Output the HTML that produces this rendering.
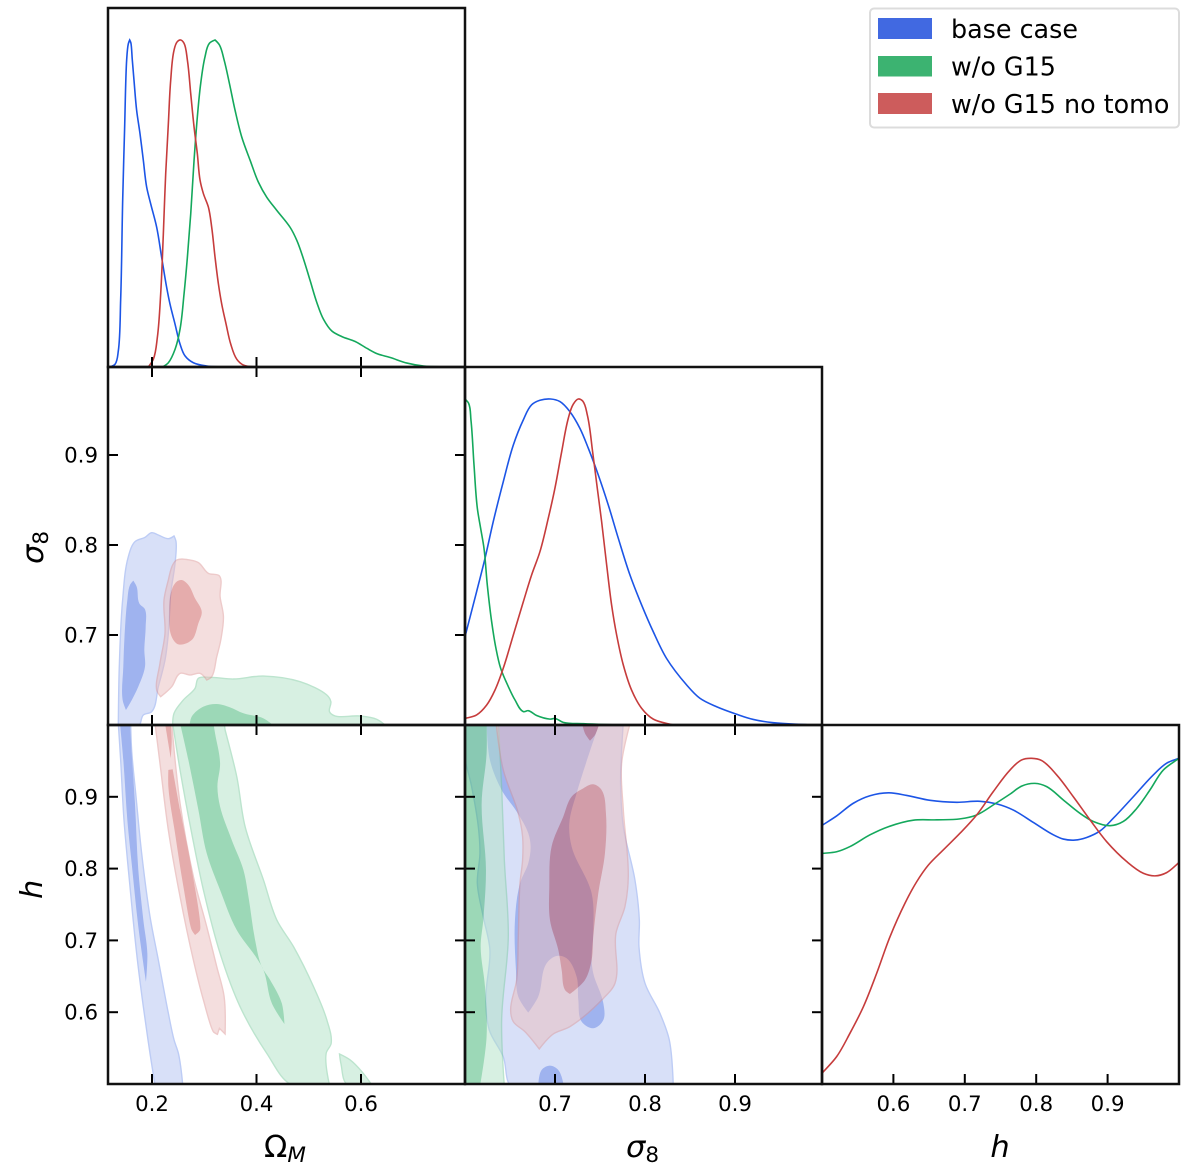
<!DOCTYPE html>
<html lang="en">
<head>
<meta charset="utf-8">
<title>Triangle plot</title>
<style>
html,body{margin:0;padding:0;background:#fff;width:1200px;height:1164px;overflow:hidden}
svg{display:block}
text{font-family:"DejaVu Sans","Liberation Sans",sans-serif;fill:#000}
</style>
</head>
<body>
<svg id="chart" xmlns="http://www.w3.org/2000/svg" width="1200" height="1164" viewBox="0 0 1200 1164">
  <defs>
    <clipPath id="clip-om-om"><rect x="108" y="8" width="357" height="359"/></clipPath>
    <clipPath id="clip-om-s8"><rect x="108" y="367" width="357" height="358"/></clipPath>
    <clipPath id="clip-s8-s8"><rect x="465" y="367" width="357" height="358"/></clipPath>
    <clipPath id="clip-om-h"><rect x="108" y="725" width="357" height="359"/></clipPath>
    <clipPath id="clip-s8-h"><rect x="465" y="725" width="357" height="359"/></clipPath>
    <clipPath id="clip-h-h"><rect x="822" y="725" width="357" height="359"/></clipPath>
  </defs>
  <g id="marks"></g>
  <g id="axes"></g>

  <text x="264" y="1157" font-size="30.5">Ω<tspan font-size="21.5" font-style="italic" dy="5">M</tspan></text>
  <text x="626" y="1157" font-size="30.5"><tspan font-style="italic">σ</tspan><tspan font-size="21.5" dy="5">8</tspan></text>
  <text x="1000" y="1157" font-size="30.5" font-style="italic" text-anchor="middle">h</text>
  <text transform="translate(43,564) rotate(-90)" font-size="30.5"><tspan font-style="italic">σ</tspan><tspan font-size="21.5" dy="5">8</tspan></text>
  <text transform="translate(42,899) rotate(-90)" font-size="30.5" font-style="italic">h</text>

  <g>
    <rect x="870" y="8.5" width="309" height="119" rx="4" ry="4" fill="#fff" stroke="#dcdcdc" stroke-width="2"/>
    <rect x="878" y="18" width="54" height="21" fill="#4169E1"/>
    <text x="951" y="38" font-size="25.4">base case</text>
    <rect x="878" y="56" width="54" height="20.5" fill="#3CB371"/>
    <text x="951" y="75.5" font-size="25.4">w/o G15</text>
    <rect x="878" y="93" width="54" height="21" fill="#CD5C5C"/>
    <text x="951" y="113" font-size="25.4">w/o G15 no tomo</text>
  </g>
</svg>

<script>
// ---------- tick labels ----------
const omegaTicks = [0.2, 0.4, 0.6];
const sigmaTicks = [0.7, 0.8, 0.9];
const hTicks = [0.6, 0.7, 0.8, 0.9];

// ---------- 1D posterior: Omega_M ----------
const omBlueX = [.1196,.1291,.1355,.140,.1439,.1475,.1515,.1546,.1573,.1596,.1623,.1655,.1706,.177,.1834,.1898,.1975,.209,.2185,.2281,.2345,.2441,.2537,.2632,.2792,.3047,.3367];
const omBlueP = [0,.008,.049,.205,.511,.725,.939,.988,1,.991,.939,.878,.785,.714,.632,.55,.499,.427,.335,.243,.192,.131,.07,.034,.013,.003,0];
const omRedX = [.193,.2026,.2102,.2166,.2217,.2262,.2313,.2358,.2422,.2485,.2549,.2613,.2677,.2741,.2805,.2868,.292,.2984,.3079,.3143,.3207,.3271,.3335,.3418,.3507,.3622,.375,.4005];
const omRedP = [0,.024,.09,.223,.407,.591,.744,.877,.969,.995,1,.99,.939,.836,.734,.652,.571,.53,.489,.427,.335,.254,.192,.131,.07,.024,.006,0];
const omGreenX = [.2205,.2313,.2441,.2537,.2613,.2677,.2741,.2805,.2868,.2932,.3015,.3099,.3207,.329,.338,.3482,.359,.3718,.3878,.4037,.4197,.4388,.4644,.4772,.49,.5027,.5155,.5282,.5442,.5634,.5889,.6113,.6304,.656,.6879,.7198,.7645];
const omGreenP = [0,.013,.054,.116,.223,.335,.468,.632,.765,.867,.949,.99,1,.985,.939,.867,.785,.703,.632,.565,.519,.479,.427,.387,.33,.264,.197,.146,.11,.093,.078,.057,.041,.029,.012,.003,0];

// ---------- 1D posterior: sigma_8 ----------
const s8BlueX = [.6,.6129,.6222,.6314,.6425,.6537,.6648,.674,.6833,.6951,.7055,.7166,.7277,.737,.7481,.7592,.7703,.7833,.7963,.8092,.824,.8462,.861,.8796,.9018,.9203,.9425,.9796];
const s8BlueP = [.271,.409,.511,.624,.746,.859,.936,.982,.996,1,.992,.961,.91,.849,.767,.675,.573,.46,.368,.286,.204,.123,.082,.056,.033,.017,.007,.001];
const s8RedX = [.6,.6129,.624,.6333,.6425,.6537,.6648,.674,.6833,.6925,.6999,.7074,.7148,.7203,.7259,.7307,.7359,.7418,.747,.7518,.7574,.7629,.7685,.7759,.7851,.7963,.8092,.8314];
const s8RedP = [.02,.031,.061,.107,.174,.276,.378,.46,.532,.634,.726,.838,.941,.984,1,.994,.951,.838,.726,.624,.491,.368,.276,.184,.107,.051,.018,0];
const s8GreenX = [.6,.604,.6066,.61,.6137,.6174,.6211,.6248,.6296,.6344,.6396,.6481,.6555,.6648,.6703,.6796,.6944,.7,.7092,.7314,.7685];
const s8GreenP = [1,.987,.936,.798,.665,.603,.542,.429,.317,.235,.174,.118,.077,.041,.044,.029,.018,.02,.008,.004,0];

// ---------- 1D posterior: h ----------
const hBlueX = [.5,.5205,.5439,.5672,.5929,.6186,.6513,.6886,.7213,.7446,.768,.796,.824,.838,.8543,.8707,.8894,.908,.936,.964,.9827,1];
const hBlueP = [.794,.823,.862,.885,.894,.886,.871,.865,.868,.86,.841,.803,.765,.752,.749,.757,.777,.816,.882,.949,.985,1];
const hGreenX = [.5,.5205,.5392,.5672,.5929,.628,.6606,.6933,.7166,.74,.7633,.78,.7983,.8147,.838,.8613,.88,.9034,.922,.9407,.9594,.978,1];
const hGreenP = [.708,.713,.729,.765,.79,.81,.811,.814,.826,.857,.89,.915,.923,.913,.872,.831,.806,.793,.806,.846,.903,.964,1];
const hRedX = [.5,.5205,.5392,.5579,.5766,.5952,.6162,.6326,.6489,.67,.6933,.7166,.74,.7633,.7796,.7936,.8077,.8287,.852,.8754,.8987,.9267,.95,.9664,.9827,1];
const hRedP = [.033,.084,.156,.237,.34,.452,.555,.621,.672,.719,.77,.826,.898,.964,.995,1,.993,.949,.882,.811,.744,.683,.647,.639,.649,.68];

// ---------- contours: Omega_M vs sigma_8 ----------
const osBlueOuterX = [.1355,.1374,.1438,.1547,.1675,.1866,.1994,.2121,.2313,.2422,.246,.2441,.2358,.2313,.2249,.2121,.1994,.1834,.1738];
const osBlueOuterY = [.5981,.6648,.7389,.787,.8037,.8085,.8137,.8111,.807,.81,.8037,.7796,.7463,.7019,.6722,.6426,.6148,.6111,.5981];
const osBlueInnerX = [.1643,.1706,.1757,.1866,.1879,.1853,.1866,.1738,.1579,.1502,.1438,.1451,.1477,.1528,.1579];
const osBlueInnerY = [.7604,.7537,.7352,.7285,.7093,.6833,.6648,.6426,.6241,.6167,.6278,.6648,.7019,.7389,.7556];
const osRedOuterX = [.2473,.2728,.2888,.3079,.329,.3303,.3367,.3316,.3239,.3143,.3047,.292,.2728,.2537,.2377,.2166,.209,.2153,.2249,.223,.2313,.2396];
const osRedOuterY = [.7833,.7833,.7804,.7685,.7656,.7426,.7204,.6944,.6759,.6537,.65,.6574,.6556,.6574,.6426,.6315,.6389,.6685,.7019,.7389,.7611,.7778];
const osRedInnerX = [.2568,.2696,.2824,.2952,.2888,.276,.2505,.2377,.2332,.2377,.2473];
const osRedInnerY = [.7611,.7556,.7407,.7259,.713,.6944,.6896,.6981,.7241,.75,.7593];
const osGreenOuterX = [.2396,.2422,.2601,.2824,.2888,.3111,.3558,.4133,.4835,.5346,.5423,.5397,.5506,.5985,.6304,.6496];
const osGreenOuterY = [.5981,.613,.6278,.6407,.6519,.653,.6511,.6544,.6481,.6333,.6259,.6148,.61,.61,.6063,.5981];
const osGreenInnerX = [.2715,.276,.2984,.3239,.3494,.375,.4133,.4356];
const osGreenInnerY = [.5981,.6093,.6204,.6233,.6196,.613,.6074,.5981];

// ---------- contours: Omega_M vs h ----------
const ohBlueOuterX = [.1355,.14,.1464,.1579,.1706,.1834,.1962,.2058,.2588,.2505,.2422,.2313,.2121,.1962,.1802,.1694,.161,.1591];
const ohBlueOuterY = [1.0024,.9513,.8677,.7749,.682,.6077,.5427,.4986,.4986,.5427,.5613,.5985,.6727,.7331,.8213,.9002,.9652,1.0024];
const ohBlueInnerX = [.1387,.1451,.1528,.1611,.1738,.1885,.1911,.1834,.1738,.1674,.1611,.1579];
const ohBlueInnerY = [1.0024,.9513,.8677,.8074,.7192,.6426,.682,.7284,.7981,.8909,.9606,1.0024];
const ohRedOuterX = [.2058,.2153,.2313,.2537,.2792,.2984,.3175,.3252,.329,.3399,.338,.3239,.3047,.2792,.2537,.2377];
const ohRedOuterY = [1.0024,.9466,.8538,.761,.6727,.617,.5729,.5692,.5776,.5697,.6217,.6634,.7192,.7888,.8909,1.0024];
const ohRedInnerAX = [.2313,.2396,.2537,.2728,.292,.2824,.276,.2601,.2441,.2313];
const ohRedInnerAY = [.9374,.9383,.8817,.812,.7145,.7076,.7145,.7749,.8492,.9141];
const ohRedInnerBX = [.2249,.2358,.2377,.2358];
const ohRedInnerBY = [1.0024,.9536,.9791,1.0024];
const ohGreenOuterX = [.2396,.2537,.276,.2984,.3303,.3686,.4197,.4676,.5397,.5333,.5429,.5346,.5091,.4708,.4388,.4133,.3782,.3622,.3399,.3367];
const ohGreenOuterY = [1.0024,.9374,.8492,.7702,.682,.6077,.5427,.4986,.4986,.5427,.5567,.5892,.6356,.6913,.7285,.7842,.8584,.9281,.9931,1.0024];
const ohGreenIslandX = [.5589,.5793,.6017,.6208,.5742,.5615];
const ohGreenIslandY = [.5418,.5335,.5172,.4986,.4986,.5288];
const ohGreenInnerX = [.2537,.2696,.2888,.3047,.3303,.3622,.4005,.4133,.4293,.4535,.4484,.4261,.4101,.3973,.3846,.375,.3526,.3303,.3252,.3303,.3207,.3175];
const ohGreenInnerY = [1.0024,.9513,.8817,.8213,.7702,.7145,.6751,.6588,.6124,.5836,.6124,.6449,.6634,.7006,.761,.7981,.8399,.8863,.9141,.9466,.9884,1.0024];

// ---------- contours: sigma_8 vs h ----------
const shBlueOuterX = [.5981,.5981,.6074,.6148,.6166,.6137,.6203,.6277,.6233,.627,.6425,.6518,.8314,.827,.8166,.8,.7933,.7937,.7888,.7759,.7729,.7733,.7759];
const shBlueOuterY = [1.0047,.9652,.9141,.8584,.8213,.7795,.7331,.6867,.6217,.5752,.5381,.4963,.4963,.5613,.5985,.6402,.6913,.7285,.7842,.8584,.9141,.9466,1.0047];
const shBlueInnerX = [.624,.6277,.6407,.6574,.6703,.6729,.6703,.6611,.6555,.6566,.6592,.6703,.6814,.6907,.7018,.7129,.724,.7259,.7296,.7425,.7537,.7537,.7425,.7407,.7425,.7407,.7185,.7159,.724,.75];
const shBlueInnerY = [1.0047,.9513,.9095,.8793,.8492,.8306,.8074,.7795,.7285,.6588,.6217,.5994,.6217,.6681,.6783,.6751,.6495,.617,.5868,.5776,.5892,.6124,.6542,.6727,.7099,.7656,.8306,.8631,.9049,1.0047];
const shBlueIslandX = [.6814,.6851,.6944,.7037,.71];
const shBlueIslandY = [.4963,.5195,.5256,.5195,.4963];
const shGreenOuterX = [.5963,.637,.6407,.6437,.6481,.6407,.6437,.5963];
const shGreenOuterY = [1.0047,1.0047,.9141,.812,.7052,.5892,.4963,.4963];
const shGreenInnerX = [.5963,.624,.624,.6185,.6233,.6203,.6174,.6222,.624,.6166,.5963];
const shGreenInnerY = [1.0047,1.0047,.9606,.8909,.7981,.7285,.6913,.6356,.566,.4963,.4963];
const shRedOuterX = [.6344,.6425,.6592,.664,.664,.6611,.6592,.6574,.6507,.6537,.6666,.6825,.6981,.7166,.7537,.7666,.7677,.7777,.7814,.7759,.774,.784];
const shRedOuterY = [1.0047,.9374,.877,.8445,.812,.7795,.7052,.6449,.6031,.5868,.5729,.5488,.5697,.5799,.6193,.6402,.7099,.747,.7888,.8817,.9466,1.0047];
const shRedInnerAX = [.7425,.7518,.7566,.7555,.7481,.7425,.7407,.7333,.7166,.7111,.7074,.7037,.6944,.6937,.6962,.7092,.7185,.7314];
const shRedInnerAY = [.9174,.9095,.877,.8213,.7656,.7052,.6727,.6449,.6254,.631,.6588,.6867,.7285,.7749,.8306,.8724,.9002,.9118];
const shRedInnerBX = [.7296,.7333,.7388,.7444,.75];
const shRedInnerBY = [1.0047,.9884,.9782,.9861,1.0047];

// ---------- axis functions ----------
function linear(d0, d1, r0, r1) {
  return function (v) { return r0 + (v - d0) * (r1 - r0) / (d1 - d0); };
}
const xOmega = linear(0.2, 0.6, 152, 361);
const xSigma = linear(0.6, 0.9, 465, 735);
const xH = linear(0.5, 1.0, 822, 1179);
const ySigma = linear(0.6, 0.9, 725, 455);
const yH = linear(0.5, 1.0, 1084, 725);
const yDensityOm = linear(0, 1, 367, 40);
const yDensityS8 = linear(0, 1, 725, 399);
const yDensityH = linear(0, 1, 1084, 758.3);

const SVG_NS = 'http://www.w3.org/2000/svg';
const marks = document.getElementById('marks');
const axes = document.getElementById('axes');
const BLUE = {core: '#4169E1', light: '#b3c3f3', edge: '#7d9bec'};
const GREEN = {core: '#3CB371', light: '#b1e2c6', edge: '#7ccb9f'};
const RED = {core: '#CD5C5C', light: '#ebbebe', edge: '#dd9797'};
const LINE_BLUE = '#1c55e6', LINE_GREEN = '#14a85c', LINE_RED = '#c63c3c';

function smoothPath(pts, closed) {
  const n = pts.length;
  function dist(a, b) { return Math.hypot(b[0] - a[0], b[1] - a[1]) || 1e-6; }
  function prevOf(i) { return closed ? pts[(i - 1 + n) % n] : (i > 0 ? pts[i - 1] : null); }
  function nextOf(i) { return closed ? pts[(i + 1) % n] : (i < n - 1 ? pts[i + 1] : null); }
  function tangent(i) {
    const b = pts[i], a = prevOf(i), c = nextOf(i);
    if (!a) { const d = dist(b, c); return [(c[0] - b[0]) / d, (c[1] - b[1]) / d]; }
    if (!c) { const d = dist(a, b); return [(b[0] - a[0]) / d, (b[1] - a[1]) / d]; }
    const d0 = dist(a, b), d1 = dist(b, c);
    const u0 = [(b[0] - a[0]) / d0, (b[1] - a[1]) / d0];
    const u1 = [(c[0] - b[0]) / d1, (c[1] - b[1]) / d1];
    if (u0[0] * u1[0] + u0[1] * u1[1] < 0.2) { return [0, 0]; }
    const dac = dist(a, c);
    return [0.5 * (u0[0] * d1 + u1[0] * d0) / (d0 + d1) + 0.5 * (c[0] - a[0]) / dac,
            0.5 * (u0[1] * d1 + u1[1] * d0) / (d0 + d1) + 0.5 * (c[1] - a[1]) / dac];
  }
  let d = 'M' + pts[0][0].toFixed(2) + ' ' + pts[0][1].toFixed(2);
  const segs = closed ? n : n - 1;
  for (let i = 0; i < segs; i++) {
    const j = (i + 1) % n;
    const p = pts[i], q = pts[j];
    const t0 = tangent(i), t1 = tangent(j);
    const seg = dist(p, q);
    const before = prevOf(i), after = nextOf(j);
    const hp = before ? Math.min(seg / 3, dist(before, p)) : seg / 3;
    const hq = after ? Math.min(seg / 3, dist(q, after)) : seg / 3;
    d += 'C' + (p[0] + t0[0] * hp).toFixed(2) + ' ' + (p[1] + t0[1] * hp).toFixed(2) + ' ' +
         (q[0] - t1[0] * hq).toFixed(2) + ' ' + (q[1] - t1[1] * hq).toFixed(2) + ' ' +
         q[0].toFixed(2) + ' ' + q[1].toFixed(2);
  }
  return closed ? d + 'Z' : d;
}

function toPoints(xs, ys, fx, fy) {
  return xs.map(function (v, i) { return [fx(v), fy(ys[i])]; });
}

function drawLine(name, xs, ys, fx, fy, color, clip) {
  const el = document.createElementNS(SVG_NS, 'path');
  
  
  el.setAttribute('d', smoothPath(toPoints(xs, ys, fx, fy), false));
  el.setAttribute('fill', 'none');
  el.setAttribute('stroke', color);
  el.setAttribute('stroke-width', '1.6');
  el.setAttribute('clip-path', 'url(#' + clip + ')');
  marks.appendChild(el);
}

// Each series is an isolated half-transparent group, so the core replaces the
// outer band instead of stacking on top of it.
function contourGroup(name, clip) {
  const g = document.createElementNS(SVG_NS, 'g');
  
  
  g.setAttribute('opacity', '0.5');
  g.setAttribute('clip-path', 'url(#' + clip + ')');
  marks.appendChild(g);
  return g;
}

function drawContour(group, name, xs, ys, fx, fy, palette, level) {
  const el = document.createElementNS(SVG_NS, 'path');
  
  
  el.setAttribute('d', smoothPath(toPoints(xs, ys, fx, fy), true));
  el.setAttribute('fill', level === 'outer' ? palette.light : palette.core);
  if (level === 'outer') {
    el.setAttribute('stroke', palette.edge);
    el.setAttribute('stroke-width', '1.4');
  }
  group.appendChild(el);
}

// Omega_M / sigma_8 contours
const gOsBlue = contourGroup('contours-om-s8-base-case', 'clip-om-s8');
drawContour(gOsBlue, 'contour-om-s8-base-outer', osBlueOuterX, osBlueOuterY, xOmega, ySigma, BLUE, 'outer');
drawContour(gOsBlue, 'contour-om-s8-base-core', osBlueInnerX, osBlueInnerY, xOmega, ySigma, BLUE, 'inner');
const gOsGreen = contourGroup('contours-om-s8-wo-g15', 'clip-om-s8');
drawContour(gOsGreen, 'contour-om-s8-wo-g15-outer', osGreenOuterX, osGreenOuterY, xOmega, ySigma, GREEN, 'outer');
drawContour(gOsGreen, 'contour-om-s8-wo-g15-core', osGreenInnerX, osGreenInnerY, xOmega, ySigma, GREEN, 'inner');
const gOsRed = contourGroup('contours-om-s8-no-tomo', 'clip-om-s8');
drawContour(gOsRed, 'contour-om-s8-no-tomo-outer', osRedOuterX, osRedOuterY, xOmega, ySigma, RED, 'outer');
drawContour(gOsRed, 'contour-om-s8-no-tomo-core', osRedInnerX, osRedInnerY, xOmega, ySigma, RED, 'inner');

// Omega_M / h contours
const gOhBlue = contourGroup('contours-om-h-base-case', 'clip-om-h');
drawContour(gOhBlue, 'contour-om-h-base-outer', ohBlueOuterX, ohBlueOuterY, xOmega, yH, BLUE, 'outer');
drawContour(gOhBlue, 'contour-om-h-base-core', ohBlueInnerX, ohBlueInnerY, xOmega, yH, BLUE, 'inner');
const gOhGreen = contourGroup('contours-om-h-wo-g15', 'clip-om-h');
drawContour(gOhGreen, 'contour-om-h-wo-g15-outer', ohGreenOuterX, ohGreenOuterY, xOmega, yH, GREEN, 'outer');
drawContour(gOhGreen, 'contour-om-h-wo-g15-island', ohGreenIslandX, ohGreenIslandY, xOmega, yH, GREEN, 'outer');
drawContour(gOhGreen, 'contour-om-h-wo-g15-core', ohGreenInnerX, ohGreenInnerY, xOmega, yH, GREEN, 'inner');
const gOhRed = contourGroup('contours-om-h-no-tomo', 'clip-om-h');
drawContour(gOhRed, 'contour-om-h-no-tomo-outer', ohRedOuterX, ohRedOuterY, xOmega, yH, RED, 'outer');
drawContour(gOhRed, 'contour-om-h-no-tomo-core', ohRedInnerAX, ohRedInnerAY, xOmega, yH, RED, 'inner');
drawContour(gOhRed, 'contour-om-h-no-tomo-core-top', ohRedInnerBX, ohRedInnerBY, xOmega, yH, RED, 'inner');

// sigma_8 / h contours
const gShBlue = contourGroup('contours-s8-h-base-case', 'clip-s8-h');
drawContour(gShBlue, 'contour-s8-h-base-outer', shBlueOuterX, shBlueOuterY, xSigma, yH, BLUE, 'outer');
drawContour(gShBlue, 'contour-s8-h-base-core', shBlueInnerX, shBlueInnerY, xSigma, yH, BLUE, 'inner');
drawContour(gShBlue, 'contour-s8-h-base-core-bottom', shBlueIslandX, shBlueIslandY, xSigma, yH, BLUE, 'inner');
const gShGreen = contourGroup('contours-s8-h-wo-g15', 'clip-s8-h');
drawContour(gShGreen, 'contour-s8-h-wo-g15-outer', shGreenOuterX, shGreenOuterY, xSigma, yH, GREEN, 'outer');
drawContour(gShGreen, 'contour-s8-h-wo-g15-core', shGreenInnerX, shGreenInnerY, xSigma, yH, GREEN, 'inner');
const gShRed = contourGroup('contours-s8-h-no-tomo', 'clip-s8-h');
drawContour(gShRed, 'contour-s8-h-no-tomo-outer', shRedOuterX, shRedOuterY, xSigma, yH, RED, 'outer');
drawContour(gShRed, 'contour-s8-h-no-tomo-core', shRedInnerAX, shRedInnerAY, xSigma, yH, RED, 'inner');
drawContour(gShRed, 'contour-s8-h-no-tomo-core-top', shRedInnerBX, shRedInnerBY, xSigma, yH, RED, 'inner');

// 1D posteriors
drawLine('posterior-om-base-case', omBlueX, omBlueP, xOmega, yDensityOm, LINE_BLUE, 'clip-om-om');
drawLine('posterior-om-wo-g15', omGreenX, omGreenP, xOmega, yDensityOm, LINE_GREEN, 'clip-om-om');
drawLine('posterior-om-no-tomo', omRedX, omRedP, xOmega, yDensityOm, LINE_RED, 'clip-om-om');
drawLine('posterior-s8-base-case', s8BlueX, s8BlueP, xSigma, yDensityS8, LINE_BLUE, 'clip-s8-s8');
drawLine('posterior-s8-wo-g15', s8GreenX, s8GreenP, xSigma, yDensityS8, LINE_GREEN, 'clip-s8-s8');
drawLine('posterior-s8-no-tomo', s8RedX, s8RedP, xSigma, yDensityS8, LINE_RED, 'clip-s8-s8');
drawLine('posterior-h-base-case', hBlueX, hBlueP, xH, yDensityH, LINE_BLUE, 'clip-h-h');
drawLine('posterior-h-wo-g15', hGreenX, hGreenP, xH, yDensityH, LINE_GREEN, 'clip-h-h');
drawLine('posterior-h-no-tomo', hRedX, hRedP, xH, yDensityH, LINE_RED, 'clip-h-h');

// ---------- axes ----------
function drawTick(name, x1, y1, x2, y2) {
  const el = document.createElementNS(SVG_NS, 'line');
  
  
  el.setAttribute('x1', x1);
  el.setAttribute('y1', y1);
  el.setAttribute('x2', x2);
  el.setAttribute('y2', y2);
  el.setAttribute('stroke', '#000');
  el.setAttribute('stroke-width', '2');
  axes.appendChild(el);
}
function drawLabel(name, x, y, anchor, str) {
  const el = document.createElementNS(SVG_NS, 'text');
  
  
  el.setAttribute('x', x);
  el.setAttribute('y', y);
  el.setAttribute('text-anchor', anchor);
  el.setAttribute('font-size', '21.3');
  el.textContent = str;
  axes.appendChild(el);
}
function drawFrame(name, x, y, w, h) {
  const el = document.createElementNS(SVG_NS, 'rect');
  
  
  el.setAttribute('x', x);
  el.setAttribute('y', y);
  el.setAttribute('width', w);
  el.setAttribute('height', h);
  el.setAttribute('fill', 'none');
  el.setAttribute('stroke', '#111');
  el.setAttribute('stroke-width', '2.5');
  axes.appendChild(el);
}

const TICK = 10;
omegaTicks.forEach(function (v) {
  const x = xOmega(v);
  [367, 725, 1084].forEach(function (b) { drawTick('omega-tick-up-' + v, x, b, x, b - TICK); });
  [367, 725].forEach(function (t) { drawTick('omega-tick-down-' + v, x, t, x, t + TICK); });
  drawLabel('x-tick-label-omega-' + v, x, 1111, 'middle', v.toFixed(1));
});
sigmaTicks.forEach(function (v) {
  const x = xSigma(v);
  [725, 1084].forEach(function (b) { drawTick('sigma-tick-up-' + v, x, b, x, b - TICK); });
  drawTick('sigma-tick-down-' + v, x, 725, x, 725 + TICK);
  drawLabel('x-tick-label-sigma-' + v, x, 1111, 'middle', v.toFixed(1));
  const y = ySigma(v);
  drawTick('sigma-y-tick-left-' + v, 108, y, 108 + TICK, y);
  drawTick('sigma-y-tick-right-' + v, 465, y, 465 - TICK, y);
  drawLabel('y-tick-label-sigma-' + v, 98, y + 7.5, 'end', v.toFixed(1));
});
hTicks.forEach(function (v) {
  const x = xH(v);
  drawTick('h-tick-up-' + v, x, 1084, x, 1084 - TICK);
  drawLabel('x-tick-label-h-' + v, x, 1111, 'middle', v.toFixed(1));
  const y = yH(v);
  drawTick('h-y-tick-a-' + v, 108, y, 108 + TICK, y);
  drawTick('h-y-tick-b-' + v, 465, y, 465 - TICK, y);
  drawTick('h-y-tick-c-' + v, 465, y, 465 + TICK, y);
  drawTick('h-y-tick-d-' + v, 822, y, 822 - TICK, y);
  drawLabel('y-tick-label-h-' + v, 98, y + 7.5, 'end', v.toFixed(1));
});

drawFrame('panel-omega-posterior', 108, 8, 357, 359);
drawFrame('panel-omega-sigma', 108, 367, 357, 358);
drawFrame('panel-sigma-posterior', 465, 367, 357, 358);
drawFrame('panel-omega-h', 108, 725, 357, 359);
drawFrame('panel-sigma-h', 465, 725, 357, 359);
drawFrame('panel-h-posterior', 822, 725, 357, 359);
</script>
</body>
</html>
